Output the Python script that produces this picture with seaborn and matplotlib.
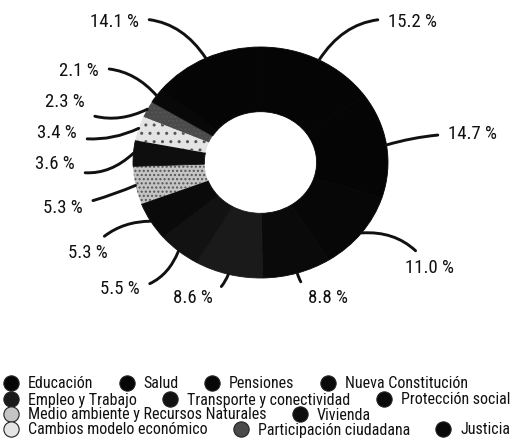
import matplotlib
matplotlib.use("Agg")
import matplotlib.pyplot as plt
from matplotlib.lines import Line2D
import seaborn as sns
import numpy as np

sns.set_theme(style="white")
plt.rcParams['font.family'] = ['Roboto Condensed', 'Roboto', 'DejaVu Sans']

categories = ["Educación", "Salud", "Pensiones", "Nueva Constitución",
              "Empleo y Trabajo", "Transporte y conectividad", "Protección social",
              "Medio ambiente y Recursos Naturales", "Vivienda",
              "Cambios modelo económico", "Participación ciudadana", "Justicia", "Otros"]
values = [15.2, 14.7, 11.0, 8.8, 8.6, 5.5, 5.3, 5.3, 3.6, 3.4, 2.3, 2.1, 14.1]
labels = ["15.2 %", "14.7 %", "11.0 %", "8.8 %", "8.6 %", "5.5 %", "5.3 %",
          "5.3 %", "3.6 %", "3.4 %", "2.3 %", "2.1 %", "14.1 %"]
colors = ["#050505", "#050505", "#070707", "#0a0a0a", "#1a1a1a", "#121212", "#0a0a0a",
          "#c4c4c4", "#0e0e0e", "#e4e4e4", "#4a4a4a", "#080808", "#050505"]
hatches = [None, None, None, None, None, None, None, "....", None, "..", "....", None, None]

legend_rows = [
    ["Educación", "Salud", "Pensiones", "Nueva Constitución"],
    ["Empleo y Trabajo", "Transporte y conectividad", "Protección social"],
    ["Medio ambiente y Recursos Naturales", "Vivienda"],
    ["Cambios modelo económico", "Participación ciudadana", "Justicia"],
]

W, H = 513, 443
fig = plt.figure(figsize=(W / 100, H / 100), dpi=100)
ax = fig.add_axes([133 / W, 1 - 278 / H, 255 / W, 231 / H])

wedges, _ = ax.pie(values, colors=colors, startangle=90, counterclock=False,
                   radius=1.0, wedgeprops=dict(width=0.56))
for w, c, h in zip(wedges, colors, hatches):
    w.set_edgecolor(c)
    w.set_linewidth(0.6)
    if h:
        w.set_hatch(h)
        w.set_edgecolor("#555555")
        w.set_linewidth(0)
ax.set_aspect("auto")
ax.set_xlim(-1, 1)
ax.set_ylim(-1, 1)
ax.axis("off")

# label anchor positions (pixels from top-left) and alignment
label_pos = [(388, 22, "left"), (448, 134, "left"), (405, 268, "left"), (308, 298, "left"),
             (213, 298, "right"), (140, 289, "right"), (108, 253, "right"), (83, 208, "right"),
             (75, 164, "right"), (77, 133, "right"), (85, 102, "right"), (99, 71, "right"),
             (139, 22, "right")]
rads = [0.35, 0.08, 0.3, -0.35, 0.35, 0.35, -0.25, 0.05, 0.35, 0.2, 0.3, -0.3, -0.35]

total = sum(values)
cum = np.cumsum([0] + values[:-1])
for i, v in enumerate(values):
    mid = 90 - 360 * (cum[i] + v / 2) / total
    t = np.deg2rad(mid)
    xy = (np.cos(t) * 1.0, np.sin(t) * 1.0)
    px, py, ha = label_pos[i]
    ax.annotate(labels[i], xy=xy, xycoords="data",
                xytext=(px / W, 1 - py / H), textcoords="figure fraction",
                ha=ha, va="center", fontsize=13.5, color="#111111",
                arrowprops=dict(arrowstyle="-", color="#111111", lw=2.1,
                                shrinkA=5, shrinkB=0,
                                connectionstyle=f"arc3,rad={rads[i]}"))

color_of = dict(zip(categories, colors))
row_y = [384, 400, 415, 430]
for row, y in zip(legend_rows, row_y):
    handles = [Line2D([0], [0], marker="o", linestyle="none", markersize=11,
                      markerfacecolor=color_of[c], markeredgecolor="#222222",
                      markeredgewidth=0.8) for c in row]
    fig.legend(handles, row, loc="center left", bbox_to_anchor=(3 / W, 1 - y / H),
               ncol=len(row), frameon=False, fontsize=11.5, handlelength=1.0,
               handletextpad=0.55, columnspacing=1.6, borderpad=0, borderaxespad=0,
               labelcolor="#111111")

fig.savefig("out.png", dpi=100)
